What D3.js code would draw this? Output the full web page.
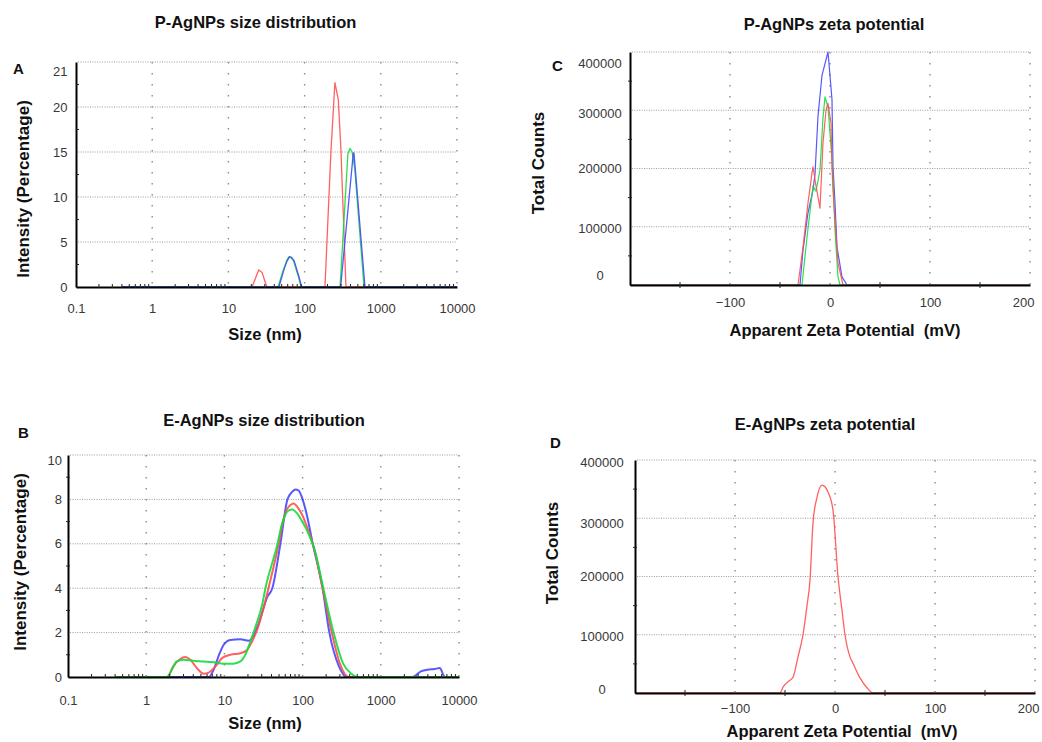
<!DOCTYPE html>
<html><head><meta charset="utf-8">
<script src="https://cdn.jsdelivr.net/npm/d3@7"></script>
<style>
body{margin:0;background:#fff;}
svg{display:block;}
</style></head><body>
<svg id="c" width="1042" height="742"></svg>
<script>
// ---------- DATA ----------
const sizeTickValues = [0.1, 1, 10, 100, 1000, 10000];
const sizeTickLabels = ["0.1", "1", "10", "100", "1000", "10000"];
const sizeGrid = [1, 10, 100, 1000, 10000];
const zetaTickValues = [-100, 0, 100, 200];
const zetaTickLabels = ["\u2212100", "0", "100", "200"];
const zetaGrid = [-100, 0, 100, 200];
const zetaMinor = [-150, -50, 50, 150];

// Panel A (P-AgNPs size distribution): [size nm, intensity %]
const aYTickValues = [0, 5, 10, 15, 20, 24];
const aYTickLabels = ["0", "5", "10", "15", "20", "21"];
const aYGrid = [5, 10, 15, 20, 25];
const aYMinor = [2.5, 7.5, 12.5, 17.5, 22.5];
const pSizeRed = [[0.4,0],[20.4,0],[23,1.1],[25,1.9],[27.7,1.6],[30,0.7],[32,0],[185,0],[222,15.2],[250,22.7],[277,20.8],[300,15.2],[349,0],[10000,0]];
const pSizeGreen = [[0.4,0],[44.8,0],[52.5,1.9],[57.9,2.9],[62.4,3.37],[66,3.3],[71.5,2.9],[82.6,1.2],[89.9,0],[292,0],[370,14.8],[394,15.4],[420,15.0],[456,13.1],[602,0],[10000,0]];
const pSizeBlue = [[0.4,0],[46,0],[53.5,1.9],[59,2.9],[63.5,3.35],[67.5,3.3],[73,2.9],[84,1.2],[91.5,0],[297,0],[436,14.9],[445,14.85],[620,0],[10000,0]];

// Panel B (E-AgNPs size distribution)
const bYTickValues = [0, 2, 4, 6, 8, 9.75];
const bYTickLabels = ["0", "2", "4", "6", "8", "10"];
const bYGrid = [2, 4, 6, 8, 10];
const bYMinor = [1, 3, 5, 7, 9];
const eSizeRed = [[0.4,0],[1.84,0],[2.22,0.48],[2.72,0.81],[3.16,0.9],[3.66,0.78],[4.45,0.4],[5.4,0.15],[6.3,0.2],[8.0,0.55],[9.3,0.85],[11.9,1.0],[16,1.07],[19.5,1.22],[22.6,1.6],[26.2,2.12],[32,3.16],[36.6,4],[49.5,6],[56,7.0],[63,7.55],[70,7.75],[77,7.82],[85,7.67],[99,7.3],[121,6.5],[140,5.8],[180,4],[236,2],[300,0.6],[390,0],[10000,0]];
const eSizeGreen = [[0.4,0],[1.84,0],[2.46,0.7],[3.0,0.78],[4.0,0.73],[5.4,0.7],[7.3,0.66],[9.8,0.6],[13,0.6],[16,0.7],[18.5,1.0],[21.5,1.6],[25,2.27],[30.6,3.3],[33.5,4],[47.8,6],[54,6.85],[60,7.3],[66,7.5],[74,7.55],[85,7.37],[99,7.0],[121,6.4],[142,5.75],[184,4],[249,2],[330,0.6],[420,0.15],[500,0],[10000,0]];
const eSizeBlue = [[0.4,0],[6.3,0],[7.3,0.33],[8.4,0.93],[9.8,1.45],[11.9,1.67],[16,1.7],[20.5,1.63],[23.3,1.82],[27.5,2.42],[35.3,3.6],[41,4],[52,6],[64,8.0],[74,8.35],[81,8.45],[89,8.4],[99,8.05],[115,7.2],[133,6.1],[180,4],[220,2],[290,0.5],[334,0.1],[356,0],[2550,0],[3260,0.25],[3980,0.33],[4870,0.36],[5660,0.4],[6620,0],[10000,0]];

// Panel C (P-AgNPs zeta potential): [mV, counts]
const cYTickValues = [17000, 98000, 201000, 294000, 381000];
const cYTickLabels = ["0", "100000", "200000", "300000", "400000"];
const countGrid = [100000, 200000, 300000, 400000];
const countMinor = [50000, 150000, 250000, 350000];
const pZetaRed = [[-200,0],[-32,0],[-27,65000],[-22,141000],[-18,192000],[-17,203000],[-14,170000],[-10,132000],[-7,244000],[-4,300000],[-2,312000],[1,278000],[2,203000],[3,163000],[5,112000],[8,38000],[13,0],[200,0]];
const pZetaGreen = [[-200,0],[-28,0],[-23,82000],[-17,170000],[-14,161000],[-10,197000],[-7,287000],[-5,323000],[-2,305000],[0,261000],[2,215000],[3,180000],[5,94000],[8,14000],[10,0],[200,0]];
const pZetaBlue = [[-200,0],[-30,0],[-27,60000],[-22,124000],[-17,163000],[-15,190000],[-12,290000],[-8,360000],[-2,400000],[2,318000],[3,203000],[5,141000],[7,65000],[12,14000],[17,0],[200,0]];

// Panel D (E-AgNPs zeta potential)
const dYTickValues = [6900, 97900, 200900, 291800, 396600];
const dYTickLabels = ["0", "100000", "200000", "300000", "400000"];
const eZetaRed = [[-200,0],[-55,0],[-52,10000],[-45,22000],[-42,27000],[-37,62000],[-32,100000],[-28,150000],[-25,194000],[-22,292000],[-18,336000],[-13,357000],[-10,354000],[-7,345000],[-2,314000],[3,200000],[7,142000],[10,100000],[15,62000],[18,51000],[25,26000],[32,9000],[38,0],[200,0]];

// ---------- DRAW ----------
const FONT = '"Liberation Sans", Arial, Helvetica, sans-serif';
const RED = "#ff4f4f", GREEN = "#14dc3c", BLUE = "#4646ff";
const svg = d3.select("#c").style("font-family", FONT);

function panel(o) {
  const g = svg.append("g");
  const [x0, x1] = o.x.range();
  const [y0, y1] = o.y.range();
  // grids
  g.selectAll("line.vg").data(o.xGrid).join("line").attr("class","vg")
    .attr("x1", d => o.x(d)).attr("x2", d => o.x(d)).attr("y1", y1).attr("y2", y0)
    .attr("stroke", "#8a8a8a").attr("stroke-width", 1.4).attr("stroke-dasharray", "1.4,9.6");
  g.selectAll("line.hg").data(o.yGrid).join("line").attr("class","hg")
    .attr("x1", x0 + 2).attr("x2", x1).attr("y1", d => o.y(d)).attr("y2", d => o.y(d))
    .attr("stroke", "#9a9a9a").attr("stroke-width", 1).attr("stroke-dasharray", "1,1.4");
  // series
  const line = d3.line().x(d => o.x(d[0])).y(d => o.y(d[1])).curve(o.curve);
  o.series.forEach(s => g.append("path").datum(s.data).attr("d", line)
    .attr("fill", "none").attr("stroke", s.color).attr("stroke-width", o.lw)
    .attr("stroke-linejoin", "round").attr("stroke-opacity", 0.9));
  // axes
  const xa = d3.axisBottom(o.x).tickValues(o.xTicks).tickFormat((d, i) => o.xLabels[i])
    .tickSize(0).tickSizeOuter(0).tickPadding(o.xPad);
  g.append("g").attr("transform", `translate(0,${y0})`).call(xa)
    .attr("font-family", FONT).attr("font-size", 13)
    .call(a => { a.select(".domain").attr("stroke", "#000").attr("stroke-width", 2);
                 a.selectAll("text").attr("fill", "#383838");
                 if (o.lastEnd) a.selectAll(".tick:last-of-type text").attr("text-anchor", "end").attr("dx", o.lastEnd); });
  const ya = d3.axisLeft(o.y).tickValues(o.yTicks).tickFormat((d, i) => o.yLabels[i])
    .tickSize(0).tickSizeOuter(0).tickPadding(o.yPad);
  g.append("g").attr("transform", `translate(${x0},0)`).call(ya)
    .attr("font-family", FONT).attr("font-size", 13)
    .call(a => { a.select(".domain").attr("stroke", "#000").attr("stroke-width", 2);
                 a.selectAll("text").attr("fill", "#383838");
                 if (o.yMid) a.selectAll("text").attr("text-anchor", "middle").attr("x", -o.yMid); });
  // minor ticks
  g.selectAll("line.mx").data(o.xMinor).join("line").attr("class","mx")
    .attr("x1", d => o.x(d)).attr("x2", d => o.x(d)).attr("y1", y0 - o.mxUp).attr("y2", y0 + o.mxDown)
    .attr("stroke", "#222").attr("stroke-width", 1);
  g.selectAll("line.my").data(o.yMinor).join("line").attr("class","my")
    .attr("x1", x0 - o.myOut).attr("x2", x0 + o.myIn).attr("y1", d => o.y(d)).attr("y2", d => o.y(d))
    .attr("stroke", "#222").attr("stroke-width", 1);
  // texts
  g.append("text").attr("x", o.title[0]).attr("y", o.title[1]).attr("text-anchor", "middle")
    .attr("font-weight", "bold").attr("font-size", 16.5).attr("fill", "#111").text(o.title[2]);
  g.append("text").attr("x", o.letter[0]).attr("y", o.letter[1])
    .attr("font-weight", "bold").attr("font-size", 15).attr("fill", "#111").text(o.letter[2]);
  g.append("text").attr("x", o.xTitle[0]).attr("y", o.xTitle[1]).attr("text-anchor", "middle")
    .attr("font-weight", "bold").attr("font-size", 16.5).attr("fill", "#111")
    .style("white-space", "pre").attr("xml:space", "preserve").text(o.xTitle[2]);
  g.append("text").attr("transform", `translate(${o.yTitle[0]},${o.yTitle[1]}) rotate(-90)`)
    .attr("text-anchor", "middle").attr("dominant-baseline", "central")
    .attr("font-weight", "bold").attr("font-size", 17).attr("fill", "#111").text(o.yTitle[2]);
}

function logMinor(scale) {
  return scale.ticks().filter(v => Math.abs(Math.log10(v) - Math.round(Math.log10(v))) > 1e-6);
}

// Panel A
const xA = d3.scaleLog().domain([0.1, 10000]).range([76, 457]);
const yA = d3.scaleLinear().domain([0, 25]).range([287, 62]);
panel({
  x: xA, y: yA, xGrid: sizeGrid, yGrid: aYGrid,
  xTicks: sizeTickValues, xLabels: sizeTickLabels, xPad: 16.8,
  yTicks: aYTickValues, yLabels: aYTickLabels, yPad: 8.5,
  xMinor: logMinor(xA), mxUp: 3, mxDown: 1, yMinor: aYMinor, myOut: 0, myIn: 3,
  curve: d3.curveLinear, lw: 1.3,
  series: [{data: pSizeRed, color: RED}, {data: pSizeGreen, color: GREEN}, {data: pSizeBlue, color: BLUE}],
  title: [255.5, 28, "P-AgNPs size distribution"], letter: [13, 74, "A"],
  xTitle: [265, 340, "Size (nm)"], yTitle: [23, 189, "Intensity (Percentage)"]
});

// Panel B
const xB = d3.scaleLog().domain([0.1, 10000]).range([68, 459]);
const yB = d3.scaleLinear().domain([0, 10]).range([677, 455]);
panel({
  x: xB, y: yB, xGrid: sizeGrid, yGrid: bYGrid,
  xTicks: sizeTickValues, xLabels: sizeTickLabels, xPad: 18.8,
  yTicks: bYTickValues, yLabels: bYTickLabels, yPad: 6,
  xMinor: logMinor(xB), mxUp: 3, mxDown: 1, yMinor: bYMinor, myOut: 2, myIn: 2,
  curve: d3.curveMonotoneX, lw: 2,
  series: [{data: eSizeBlue, color: BLUE}, {data: eSizeRed, color: RED}, {data: eSizeGreen, color: GREEN}],
  title: [264, 426, "E-AgNPs size distribution"], letter: [18, 438, "B"],
  xTitle: [265, 729, "Size (nm)"], yTitle: [20, 562, "Intensity (Percentage)"]
});

// Panel C
const xC = d3.scaleLinear().domain([-200, 200]).range([630, 1030]);
const yC = d3.scaleLinear().domain([0, 400000]).range([285, 52]);
panel({
  x: xC, y: yC, xGrid: zetaGrid, yGrid: countGrid,
  xTicks: zetaTickValues, xLabels: zetaTickLabels, xPad: 12.8, lastEnd: 4,
  yTicks: cYTickValues, yLabels: cYTickLabels, yPad: 6, yMid: 30,
  xMinor: zetaMinor, mxUp: 3, mxDown: 3, yMinor: countMinor, myOut: 2, myIn: 2,
  curve: d3.curveLinear, lw: 1.2,
  series: [{data: pZetaBlue, color: BLUE}, {data: pZetaGreen, color: GREEN}, {data: pZetaRed, color: RED}],
  title: [834, 30, "P-AgNPs zeta potential"], letter: [552, 71, "C"],
  xTitle: [845, 336, "Apparent Zeta Potential  (mV)"], yTitle: [538, 163, "Total Counts"]
});

// Panel D
const xD = d3.scaleLinear().domain([-200, 200]).range([635, 1035]);
const yD = d3.scaleLinear().domain([0, 400000]).range([693, 460]);
panel({
  x: xD, y: yD, xGrid: zetaGrid, yGrid: countGrid,
  xTicks: zetaTickValues, xLabels: zetaTickLabels, xPad: 10.8, lastEnd: 4,
  yTicks: dYTickValues, yLabels: dYTickLabels, yPad: 6, yMid: 33,
  xMinor: zetaMinor, mxUp: 3, mxDown: 3, yMinor: countMinor, myOut: 2, myIn: 2,
  curve: d3.curveMonotoneX, lw: 1.3,
  series: [{data: eZetaRed, color: RED}],
  title: [825, 430, "E-AgNPs zeta potential"], letter: [550, 448, "D"],
  xTitle: [842, 737, "Apparent Zeta Potential  (mV)"], yTitle: [552, 553, "Total Counts"]
});
</script>
</body></html>
